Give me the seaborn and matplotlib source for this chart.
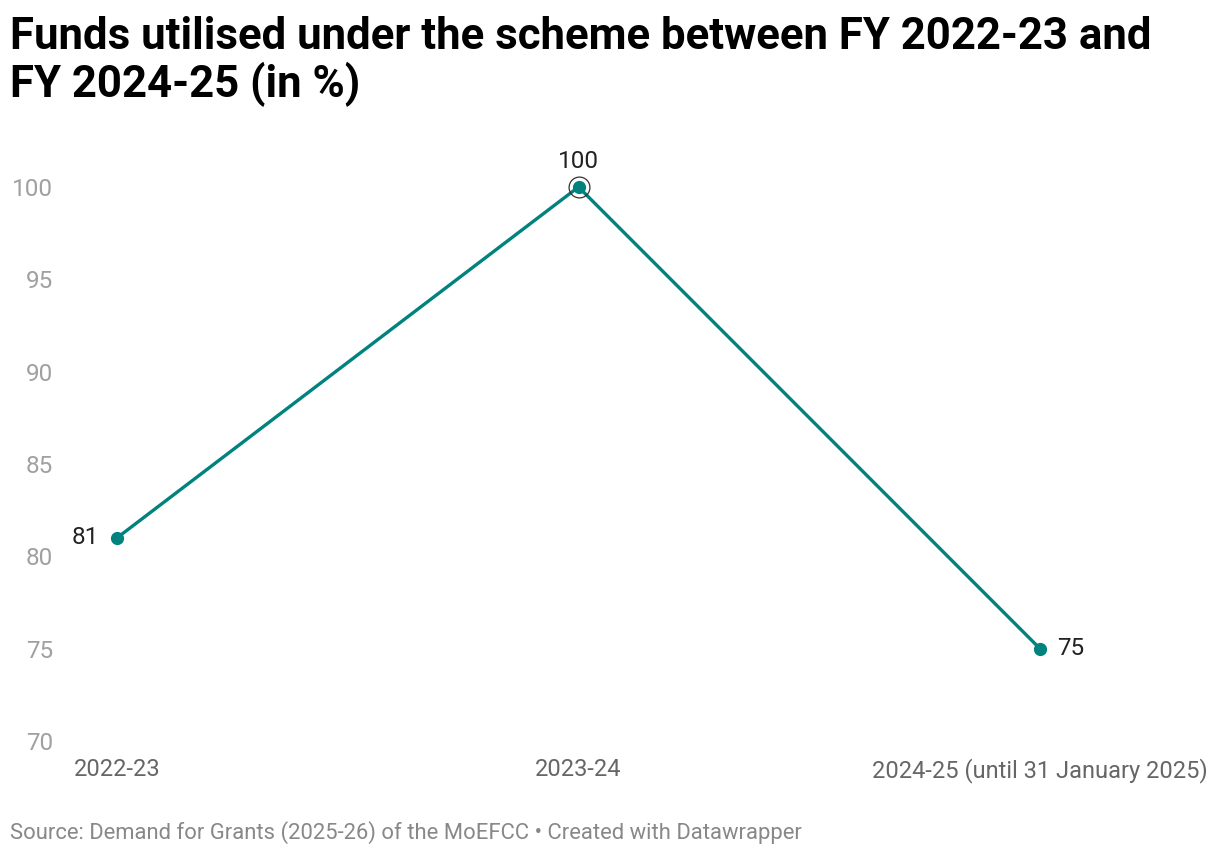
import matplotlib
matplotlib.use("Agg")
import matplotlib.pyplot as plt
import seaborn as sns
import pandas as pd

# data
years = ["2022-23", "2023-24", "2024-25 (until 31 January 2025)"]
utilised = [81, 100, 75]
y_ticks = [70, 75, 80, 85, 90, 95, 100]

df = pd.DataFrame({"pos": range(len(years)), "year": years, "pct": utilised})

sns.set_style("white")
plt.rcParams["font.family"] = ["Roboto", "DejaVu Sans"]

teal = "#00827f"

fig = plt.figure(figsize=(12.2, 8.58), dpi=100)
ax = fig.add_axes([117 / 1220, 1 - 741 / 858, (1040 - 117) / 1220, (741 - 187) / 858])

sns.lineplot(data=df, x="pos", y="pct", ax=ax, color=teal, linewidth=2.4,
             marker="o", markersize=9.5, markeredgewidth=0, clip_on=False)

# highlight ring around the peak
peak = df["pct"].idxmax()
ax.plot(df["pos"][peak], df["pct"][peak], marker="o", markersize=15,
        markerfacecolor="none", markeredgecolor="#333333", markeredgewidth=0.9,
        clip_on=False)

# value labels
lab = dict(fontsize=17.5, color="#222222")
ax.annotate(str(utilised[0]), (0, utilised[0]), xytext=(-13, 0), textcoords="offset points",
            ha="right", va="center", **lab)
ax.annotate(str(utilised[1]), (1, utilised[1]), xytext=(0, 10), textcoords="offset points",
            ha="center", va="bottom", **lab)
ax.annotate(str(utilised[2]), (2, utilised[2]), xytext=(12, 0), textcoords="offset points",
            ha="left", va="center", **lab)

ax.set_xlim(0, 2)
ax.set_ylim(70, 100)
ax.set_xticks(df["pos"])
ax.set_xticklabels(years)
ax.set_yticks(y_ticks)
ax.tick_params(axis="y", length=0, pad=46, labelsize=17.5, labelcolor="#a0a0a0")
ax.tick_params(axis="x", length=0, pad=12, labelsize=17, labelcolor="#666666")
for t in ax.get_yticklabels():
    t.set_horizontalalignment("right")
ax.set_xlabel("")
ax.set_ylabel("")
sns.despine(ax=ax, left=True, bottom=True)
ax.grid(False)

fig.text(10 / 1220, 1 - 16 / 858,
         "Funds utilised under the scheme between FY 2022-23 and\nFY 2024-25 (in %)",
         fontsize=31.5, fontweight="bold", color="#000000", va="top", ha="left",
         linespacing=1.1)
fig.text(10 / 1220, 1 - 833 / 858,
         "Source: Demand for Grants (2025-26) of the MoEFCC • Created with Datawrapper",
         fontsize=15.8, color="#888888", va="center", ha="left")

fig.savefig("out.png", dpi=100, facecolor="white")
